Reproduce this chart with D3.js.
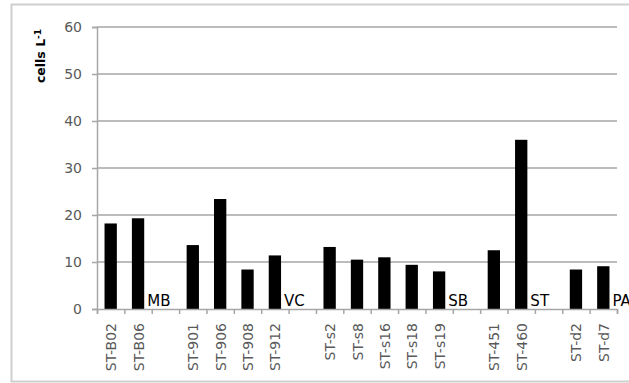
<!DOCTYPE html>
<html>
<head>
<meta charset="utf-8">
<script src="https://cdn.jsdelivr.net/npm/d3@7"></script>
<style>
  html, body { margin: 0; padding: 0; background: #fff; }
  svg { display: block; }
</style>
</head>
<body>
<svg id="chart" width="629" height="383"></svg>
<script>
// Stations (blank entries are spacer slots between regions)
const stations = ["ST-B02", "ST-B06", "", "ST-901", "ST-906", "ST-908", "ST-912", "",
  "ST-s2", "ST-s8", "ST-s16", "ST-s18", "ST-s19", "", "ST-451", "ST-460", "", "ST-d2", "ST-d7"];
// Abundance, cells L-1
const cellCounts = [18.2, 19.3, null, 13.6, 23.4, 8.4, 11.4, null,
  13.2, 10.5, 11.0, 9.4, 8.0, null, 12.5, 36.0, null, 8.4, 9.1];
// Region names, written next to the last station of each region
const regionNames = ["MB", "VC", "SB", "ST", "PA"];
const regionLastStation = ["ST-B06", "ST-912", "ST-s19", "ST-460", "ST-d7"];
const yTicks = [0, 10, 20, 30, 40, 50, 60];

const svg = d3.select("#chart");
const W = 629, H = 383;
const plot = { left: 97, right: 617, top: 27, bottom: 309 };
const font = "'DejaVu Sans', sans-serif";
const gray = "#a6a6a6";

// outer chart frame
svg.append("rect")
  .attr("x", 11.5).attr("y", 4.5)
  .attr("width", W + 10).attr("height", 377)
  .attr("fill", "#fff").attr("stroke", "#cfcfcf").attr("stroke-width", 2);

const idx = d3.range(stations.length);
const x = d3.scaleBand().domain(idx).range([plot.left, plot.right])
  .paddingInner(0.55).paddingOuter(0.275);
const xEdge = d3.scaleLinear().domain([0, stations.length]).range([plot.left, plot.right]);
const y = d3.scaleLinear().domain([0, 60]).range([plot.bottom, plot.top]);

// gridlines
svg.append("g").selectAll("line").data(yTicks.filter(d => d > 0)).join("line")
  .attr("x1", plot.left).attr("x2", plot.right)
  .attr("y1", d => y(d)).attr("y2", d => y(d))
  .attr("stroke", gray).attr("stroke-width", 1.5);

// y axis
const yAxis = svg.append("g").attr("transform", `translate(${plot.left},0)`)
  .call(d3.axisLeft(y).tickValues(yTicks).tickSize(5).tickPadding(10));
yAxis.select(".domain").attr("stroke", gray).attr("stroke-width", 1.5);
yAxis.selectAll(".tick line").attr("stroke", gray).attr("stroke-width", 1.5);
yAxis.selectAll(".tick text").attr("font-family", font).attr("font-size", 14)
  .attr("fill", "#595959");

// bars
svg.append("g").selectAll("rect")
  .data(idx.filter(i => cellCounts[i] != null)).join("rect")
  .attr("x", i => x(i)).attr("width", x.bandwidth())
  .attr("y", i => y(cellCounts[i]))
  .attr("height", i => y(0) - y(cellCounts[i]))
  .attr("fill", "#000");

// x axis with ticks on category boundaries
const xAxis = svg.append("g").attr("transform", `translate(0,${plot.bottom})`)
  .call(d3.axisBottom(xEdge).tickValues(d3.range(stations.length + 1))
    .tickSize(5).tickFormat(""));
xAxis.select(".domain").attr("stroke", gray).attr("stroke-width", 1.5);
xAxis.selectAll(".tick line").attr("stroke", gray).attr("stroke-width", 1.5);

// station labels, rotated
svg.append("g").selectAll("text")
  .data(idx.filter(i => stations[i] !== "")).join("text")
  .attr("transform", i => `translate(${x(i) + x.bandwidth() / 2 + 5.5},${plot.bottom + 14}) rotate(-90)`)
  .attr("text-anchor", "end")
  .attr("font-family", font).attr("font-size", 14).attr("fill", "#595959")
  .text(i => stations[i]);

// region names
svg.append("g").selectAll("text").data(regionNames).join("text")
  .attr("x", (d, k) => x(stations.indexOf(regionLastStation[k])) + x.bandwidth() + 3)
  .attr("y", plot.bottom - 3)
  .attr("font-family", font).attr("font-size", 15).attr("fill", "#000")
  .text(d => d);

// y axis title
const title = svg.append("text")
  .attr("transform", `translate(45,56) rotate(-90)`)
  .attr("text-anchor", "middle")
  .attr("font-family", font).attr("font-size", 12.5).attr("font-weight", "bold")
  .attr("fill", "#000");
title.append("tspan").text("cells L");
title.append("tspan").attr("dy", -4.5).attr("font-size", 9).text("-1");
</script>
</body>
</html>
